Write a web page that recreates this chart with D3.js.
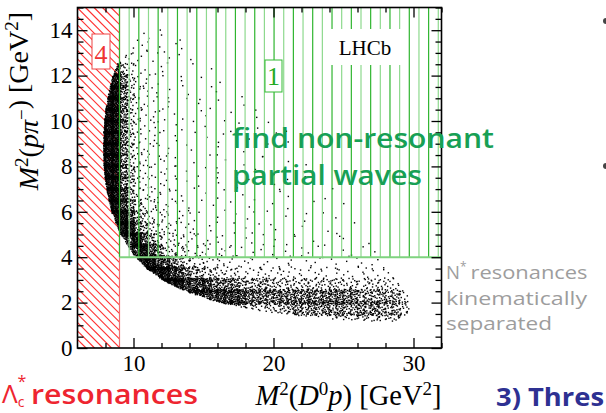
<!DOCTYPE html>
<html>
<head>
<meta charset="utf-8">
<script src="https://cdn.jsdelivr.net/npm/d3@7"></script>
<style>
  html, body { margin: 0; padding: 0; background: #fff; }
  svg { display: block; }
</style>
</head>
<body>
<svg id="chart" width="606" height="413"></svg>
<script>
// ---- axis ranges and ticks (GeV^2) ----
const xDomain = [6, 32];
const yDomain = [0, 15];
const xMajorTicks = [10, 20, 30];
const xMinorTicks = [8, 12, 14, 16, 18, 22, 24, 26, 28, 32];
const yMajorTicks = [0, 2, 4, 6, 8, 10, 12, 14];
const yMinorTicks = d3.range(0.5, 15.01, 0.5).filter(v => v % 2 !== 0);

// ---- phase-space outline: M^2(D0 p) and the lowest / highest M^2(p pi-) ----
const edgeS  = [7.857, 7.87, 7.9, 8.0, 8.2, 8.5, 9.0, 10, 11, 12, 13, 14, 16, 18, 20, 22, 24, 26, 28, 29, 29.6, 30.03];
const edgeLo = [8.80, 8.39, 8.02, 7.37, 6.62, 5.90, 5.10, 4.11, 3.48, 3.03, 2.69, 2.43, 2.03, 1.75, 1.55, 1.39, 1.28, 1.20, 1.16, 1.19, 1.27, 1.60];
const edgeHi = [8.80, 9.29, 9.66, 10.34, 11.14, 11.91, 12.75, 13.65, 14.02, 14.09, 13.96, 13.68, 12.80, 11.65, 10.31, 8.84, 7.27, 5.61, 3.87, 2.94, 2.32, 1.60];

// ---- candidate density in 0.5 x 0.5 GeV^4 cells ----
// row 0 spans M^2(p pi-) 13.5-14, each following row 0.5 lower;
// column 0 spans M^2(D0 p) 7.5-8, each following column 0.5 higher.
const cellX0 = 7.5;
const cellYTop = 14;
const cellSize = 0.5;
const densityRows = [
  "000000111101",
  "0000222111101",
  "00033221111101",
  "0086321111010101",
  "089753221101101001",
  "0997532211101011010010",
  "09975322211010110100101",
  "9997532221101011010100101",
  "99975322211011010010101001",
  "999753222111010110100100101",
  "9997532221101101010010010010",
  "99975332221101011010100100100",
  "999763322211101011010010100101",
  "8997633222111010110101001010010",
  "0998643322211101101010100101001001",
  "099875433222111011010110100101001010",
  "0099865433222110110101101010010100101",
  "008997654332221111011010110101001010010",
  "0008898654333222111110110110101101010010",
  "00008898754433322221111211111011101011011",
  "00000899887654433332222222221212121212121211",
  "0000000999887665544433333333232322322232221",
  "00000000099988887777666665555555555454545432",
  "000000000000388888888777777777777777766666653",
  "000000000000000007776655556676767676676766653",
  "000000000000000000000000000333333555555555543"
];
// candidates per full cell for each density level
const levelCounts = [0, 1, 2, 4, 7, 12, 20, 35, 60, 110];

// ---- highlighted regions ----
const region4 = { x0: 6, x1: 9, y0: 0, y1: 15 };
const region1 = { x0: 9, x1: 32, y0: 4, y1: 15 };
const region1LineStep = 0.69;

// ---- layout ----
const svg = d3.select("#chart");
const frame = { left: 77.5, right: 441.5, top: 7.5, bottom: 348 };
const x = d3.scaleLinear().domain(xDomain).range([frame.left, frame.right]);
const y = d3.scaleLinear().domain(yDomain).range([frame.bottom, frame.top]);
const serif = "'Liberation Serif', 'Times New Roman', serif";
const sans = "'Open Sans', Lato, sans-serif";

const lowEdge = d3.scaleLinear().domain(edgeS).range(edgeLo).clamp(true);
const highEdge = d3.scaleLinear().domain(edgeS).range(edgeHi).clamp(true);
function inside(s, t) {
  return s >= edgeS[0] && s <= edgeS[edgeS.length - 1] && t >= lowEdge(s) && t <= highEdge(s);
}
function vdc(i, b) {
  let f = 1, r = 0;
  while (i > 0) { f /= b; r += f * (i % b); i = Math.floor(i / b); }
  return r;
}

// spread each cell's candidates evenly (low-discrepancy order) over the cell,
// keeping only those that fall inside the phase space
const points = [];
let seq = 1;
const spread = 0.08;
densityRows.forEach((row, r) => {
  const yHi = cellYTop - r * cellSize;
  for (let c = 0; c < row.length; c++) {
    const n = levelCounts[+row[c]];
    const xLo = cellX0 + c * cellSize;
    for (let k = 0; k < n; k++, seq++) {
      const s = xLo - spread + vdc(seq, 2) * (cellSize + 2 * spread);
      const t = yHi + spread - vdc(seq, 3) * (cellSize + 2 * spread);
      if (inside(s, t)) points.push([s, t]);
    }
  }
});

// ---- region 4: red diagonal hatching ----
const defs = svg.append("defs");
defs.append("clipPath").attr("id", "clip4").append("rect")
  .attr("x", x(region4.x0)).attr("y", y(region4.y1))
  .attr("width", x(region4.x1) - x(region4.x0)).attr("height", y(region4.y0) - y(region4.y1));
const hatch4 = svg.append("g").attr("clip-path", "url(#clip4)");
const h4 = y(region4.y0) - y(region4.y1);
const redStep = 8.5;
d3.range(x(region4.x0) - h4, x(region4.x1) + redStep, redStep).forEach(a => {
  hatch4.append("line")
    .attr("x1", a).attr("y1", y(region4.y1))
    .attr("x2", a + h4).attr("y2", y(region4.y1) + h4)
    .attr("stroke", "#ff3030").attr("stroke-width", 1.2);
});
svg.append("line")
  .attr("x1", x(region4.x1)).attr("x2", x(region4.x1))
  .attr("y1", y(region4.y0)).attr("y2", y(region4.y1))
  .attr("stroke", "#f07070").attr("stroke-width", 1.2);

// ---- candidates ----
svg.append("g").selectAll("rect").data(points).join("rect")
  .attr("x", d => x(d[0]) - 0.7).attr("y", d => y(d[1]) - 0.7)
  .attr("width", 1.4).attr("height", 1.4).attr("fill", "#000");

// ---- region 1: green vertical hatching ----
const g1 = svg.append("g");
d3.range(region1.x0, region1.x1 + 1e-6, region1LineStep).forEach((v, i) => {
  g1.append("line")
    .attr("x1", x(v)).attr("x2", x(v))
    .attr("y1", y(region1.y0)).attr("y2", y(region1.y1))
    .attr("stroke", i % 2 === 0 ? "#2fb52f" : "#8ed98e").attr("stroke-width", 1.2);
});
g1.append("line")
  .attr("x1", x(region1.x0)).attr("x2", x(region1.x1))
  .attr("y1", y(region1.y0)).attr("y2", y(region1.y0))
  .attr("stroke", "#7fd37f").attr("stroke-width", 2);

// ---- labels for the regions ----
svg.append("rect").attr("x", 92).attr("y", 34).attr("width", 18).attr("height", 35)
  .attr("fill", "#fff").attr("stroke", "#ee4444").attr("stroke-width", 1);
svg.append("text").attr("x", 101).attr("y", 63).attr("text-anchor", "middle")
  .attr("font-family", serif).attr("font-size", 26).attr("fill", "#ee3333").text("4");
svg.append("rect").attr("x", 265).attr("y", 60).attr("width", 17).attr("height", 32)
  .attr("fill", "#fff").attr("stroke", "#33bb33").attr("stroke-width", 1);
svg.append("text").attr("x", 273.5).attr("y", 85).attr("text-anchor", "middle")
  .attr("font-family", serif).attr("font-size", 26).attr("fill", "#22aa22").text("1");
svg.append("rect").attr("x", 324).attr("y", 29).attr("width", 84).attr("height", 36).attr("fill", "#fff");
svg.append("text").attr("x", 365).attr("y", 55).attr("text-anchor", "middle")
  .attr("font-family", serif).attr("font-size", 21).attr("fill", "#000").text("LHCb");

// ---- frame and axes ----
svg.append("rect").attr("x", frame.left).attr("y", frame.top)
  .attr("width", frame.right - frame.left).attr("height", frame.bottom - frame.top)
  .attr("fill", "none").attr("stroke", "#000").attr("stroke-width", 1.6);

function styleAxis(g) {
  g.select(".domain").remove();
  g.selectAll("line").attr("stroke", "#000").attr("stroke-width", 1.3);
  g.selectAll("text").attr("font-family", serif).attr("font-size", 23).attr("fill", "#000");
}
svg.append("g").attr("transform", `translate(0,${frame.bottom})`)
  .call(d3.axisBottom(x).tickValues(xMajorTicks).tickSize(-10).tickPadding(7).tickFormat(d3.format("d")))
  .call(styleAxis);
svg.append("g").attr("transform", `translate(0,${frame.bottom})`)
  .call(d3.axisBottom(x).tickValues(xMinorTicks).tickSize(-5).tickFormat(""))
  .call(styleAxis);
svg.append("g").attr("transform", `translate(0,${frame.top})`)
  .call(d3.axisTop(x).tickValues(xMajorTicks).tickSize(-10).tickFormat(""))
  .call(styleAxis);
svg.append("g").attr("transform", `translate(0,${frame.top})`)
  .call(d3.axisTop(x).tickValues(xMinorTicks).tickSize(-5).tickFormat(""))
  .call(styleAxis);
svg.append("g").attr("transform", `translate(${frame.left},0)`)
  .call(d3.axisLeft(y).tickValues(yMajorTicks).tickSize(-10).tickPadding(5).tickFormat(d3.format("d")))
  .call(styleAxis);
svg.append("g").attr("transform", `translate(${frame.left},0)`)
  .call(d3.axisLeft(y).tickValues(yMinorTicks).tickSize(-6).tickFormat(""))
  .call(styleAxis);
svg.append("g").attr("transform", `translate(${frame.right},0)`)
  .call(d3.axisRight(y).tickValues(yMajorTicks).tickSize(-10).tickFormat(""))
  .call(styleAxis);
svg.append("g").attr("transform", `translate(${frame.right},0)`)
  .call(d3.axisRight(y).tickValues(yMinorTicks).tickSize(-6).tickFormat(""))
  .call(styleAxis);

// ---- axis titles ----
function massTitle(sel, inner) {
  sel.append("tspan").attr("font-style", "italic").text("M");
  sel.append("tspan").attr("font-size", 19).attr("dy", -10).text("2");
  sel.append("tspan").attr("dy", 10).text("(");
  inner(sel);
  sel.append("tspan").text(") [GeV");
  sel.append("tspan").attr("font-size", 19).attr("dy", -10).text("2");
  sel.append("tspan").attr("dy", 10).text("]");
}
const xt = svg.append("text").attr("x", frame.right).attr("y", 405).attr("text-anchor", "end")
  .attr("font-family", serif).attr("font-size", 28.5).attr("fill", "#000");
massTitle(xt, s => {
  s.append("tspan").attr("font-style", "italic").text("D");
  s.append("tspan").attr("font-size", 19).attr("dy", -10).text("0");
  s.append("tspan").attr("font-style", "italic").attr("dy", 10).text("p");
});
const yt = svg.append("text").attr("transform", "translate(38,12) rotate(-90)").attr("text-anchor", "end")
  .attr("font-family", serif).attr("font-size", 28).attr("fill", "#000");
massTitle(yt, s => {
  s.append("tspan").attr("font-style", "italic").text("pπ");
  s.append("tspan").attr("font-size", 19).attr("dy", -10).text("−");
  s.append("tspan").attr("dy", 10).text("");
});

// ---- annotations ----
function stretched(sel, len) {
  return sel.attr("textLength", len).attr("lengthAdjust", "spacingAndGlyphs");
}
const green = "#17a055";
stretched(svg.append("text").attr("x", 232).attr("y", 148).attr("font-family", sans).attr("font-weight", 600)
  .attr("font-size", 27).attr("fill", green).text("find non-resonant"), 262);
stretched(svg.append("text").attr("x", 232).attr("y", 185).attr("font-family", sans).attr("font-weight", 600)
  .attr("font-size", 27).attr("fill", green).text("partial waves"), 190);

const grey = "#9d9d9d";
const ns = svg.append("text").attr("x", 446).attr("y", 279).attr("font-family", sans)
  .attr("font-size", 18.5).attr("fill", grey);
ns.append("tspan").text("N");
ns.append("tspan").attr("font-size", 12).attr("dy", -8).text("*");
stretched(ns.append("tspan").attr("dx", 4).attr("dy", 8).text("resonances"), 117);
stretched(svg.append("text").attr("x", 446).attr("y", 304.5).attr("font-family", sans)
  .attr("font-size", 18.5).attr("fill", grey).text("kinematically"), 141);
stretched(svg.append("text").attr("x", 446).attr("y", 330).attr("font-family", sans)
  .attr("font-size", 18.5).attr("fill", grey).text("separated"), 106);

const red = "#ee2530";
const lam = svg.append("text").attr("x", 2).attr("y", 403).attr("font-family", sans)
  .attr("font-size", 26).attr("fill", red);
lam.append("tspan").text("Λ");
lam.append("tspan").attr("font-size", 14).attr("dy", 4).text("c");
lam.append("tspan").attr("font-size", 16).attr("dx", -7).attr("dy", -20).text("*");
stretched(lam.append("tspan").attr("x", 31).attr("dy", 17).attr("font-size", 27).attr("font-weight", 600)
  .text("resonances"), 167);

stretched(svg.append("text").attr("x", 496).attr("y", 406).attr("font-family", sans).attr("font-weight", 700)
  .attr("font-size", 25).attr("fill", "#2e3192").text("3) Thres"), 108);

svg.append("circle").attr("cx", 606).attr("cy", 21).attr("r", 3).attr("fill", "#444");
svg.append("circle").attr("cx", 606).attr("cy", 166).attr("r", 3).attr("fill", "#444");
</script>
</body>
</html>
